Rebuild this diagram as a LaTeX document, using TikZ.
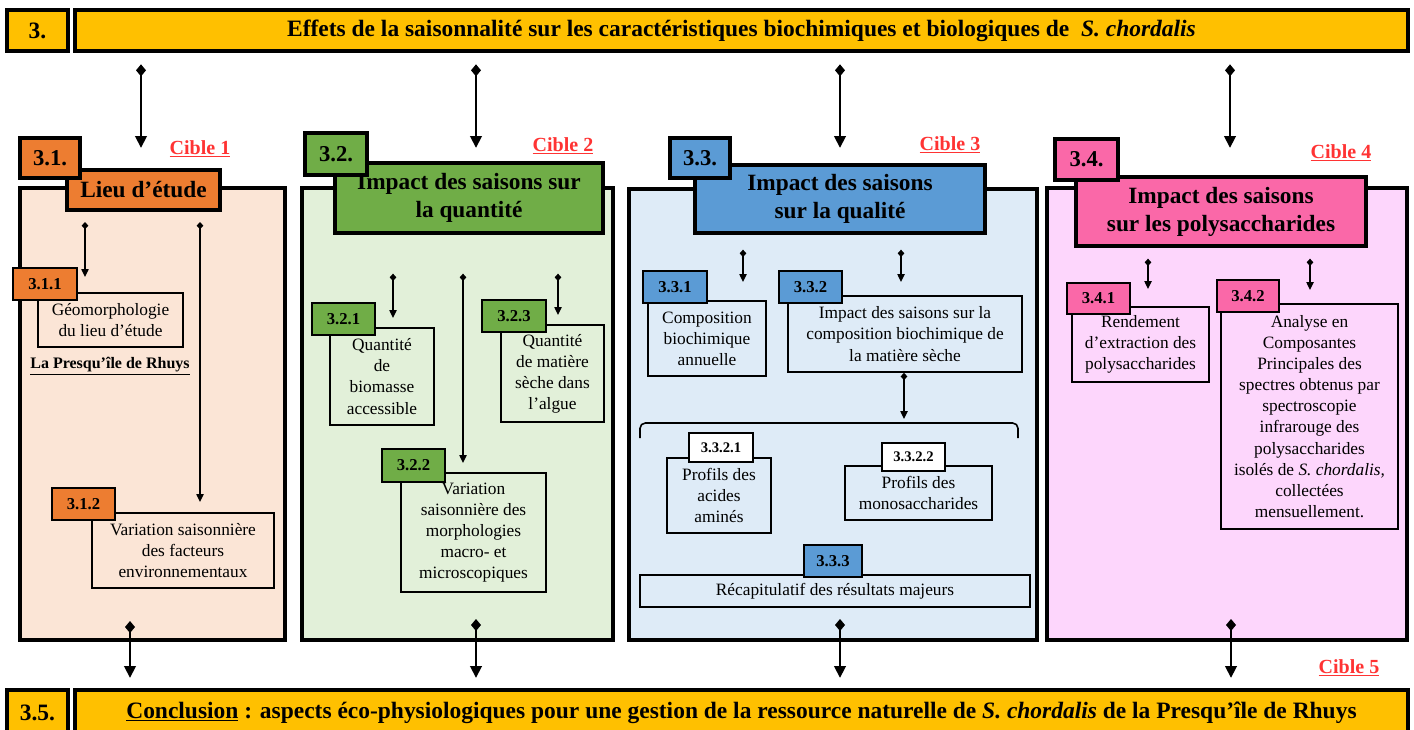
\documentclass[tikz,border=0pt]{standalone}
\usepackage{fontspec}
\setmainfont{Liberation Serif}
\usetikzlibrary{arrows.meta}
\definecolor{gold}{HTML}{FFC000}
\definecolor{orng}{HTML}{ED7D31}
\definecolor{peach}{HTML}{FBE5D6}
\definecolor{grn}{HTML}{70AD47}
\definecolor{lgrn}{HTML}{E2F0D9}
\definecolor{blu}{HTML}{5B9BD5}
\definecolor{lblu}{HTML}{DEEBF7}
\definecolor{pnk}{HTML}{FA68A8}
\definecolor{lpnk}{HTML}{FDD6FC}
\definecolor{cible}{HTML}{FF3333}
\newcommand\mybox[7]{%
  \node[#6, minimum width={(#4-#2)*0.75pt}, minimum height={(#5-#3)*0.75pt}, inner sep=0pt]
    (#1) at ({(#2+#4)/2},{(#3+#5)/2}) {#7};}
\tikzset{
  bar/.style={draw, line width=3pt, fill=gold, font=\fontsize{17.6}{20}\selectfont\bfseries},
  bigbox/.style={draw, line width=3pt},
  ttl/.style={draw, line width=3pt, align=center, font=\fontsize{17.5}{21}\selectfont\bfseries},
  sec/.style={draw, line width=2.5pt, font=\fontsize{17}{20}\selectfont\bfseries},
  num/.style={draw, line width=2pt, font=\fontsize{12.5}{15}\selectfont\bfseries},
  numw/.style={draw, line width=1.6pt, fill=white, font=\fontsize{11}{13}\selectfont\bfseries},
  sub/.style={draw, line width=1.2pt, align=center, font=\fontsize{13}{15.8}\selectfont},
  cib/.style={text=cible, font=\fontsize{15}{18}\selectfont\bfseries},
  bigarrow/.style={line width=2.2pt, {Diamond[length=9pt,width=7.5pt]}-{Triangle[length=9pt,width=8.5pt]}},
  smallarrow/.style={line width=1pt, {Diamond[length=5.5pt,width=5pt]}-{Triangle[length=6pt,width=5.5pt]}},
}
\begin{document}
\begin{tikzpicture}[x=0.75pt,y=-0.75pt]
\clip (0,0) rectangle (1414,729);
\fill[white] (0,0) rectangle (1414,729);
% top and bottom bars
\mybox{n3}{7}{10}{68}{51}{bar}{3.}
\mybox{top}{75}{10}{1408}{51}{bar}{Effets de la saisonnalité sur les caractéristiques biochimiques et biologiques de\ \ \textit{S. chordalis}}
\mybox{n35}{7}{690}{68}{735}{bar}{3.5.}
\mybox{bot}{75}{690}{1408}{735}{bar}{\underline{Conclusion} : aspects éco-physiologiques pour une gestion de la ressource naturelle de \textit{S. chordalis} de la Presqu’île de Rhuys}

% ---------- column 1
\mybox{c1}{20}{188}{285}{640}{bigbox, fill=peach}{}
\mybox{geo}{38}{293}{183}{347}{sub, fill=peach}{Géomorphologie\\du lieu d’étude}
\mybox{var1}{92}{513}{274}{588}{sub, fill=peach}{Variation saisonnière\\des facteurs\\environnementaux}
\node[font=\fontsize{12}{14}\selectfont\bfseries] (rhuys) at (110,366) {\underline{La Presqu’île de Rhuys}};
\mybox{lieu}{67}{170}{220}{210}{ttl, fill=orng}{Lieu d’étude}
\mybox{s31}{20}{138}{80}{178}{sec, fill=orng}{3.1.}
\mybox{n311}{13}{268}{77}{300}{num, fill=orng}{3.1.1}
\mybox{n312}{52}{488}{115}{520}{num, fill=orng}{3.1.2}
\node[cib] (cib1) at (200,149) {\underline{Cible 1}};

% ---------- column 2
\mybox{c2}{302}{188}{613}{640}{bigbox, fill=lgrn}{}
\mybox{q1}{330}{328}{434}{425}{sub, fill=lgrn}{Quantité\\de\\biomasse\\accessible}
\mybox{q3}{501}{325}{604}{422}{sub, fill=lgrn}{Quantité\\de matière\\sèche dans\\l’algue}
\mybox{var2}{401}{473}{546}{592}{sub, fill=lgrn}{Variation\\saisonnière des\\morphologies\\macro- et\\microscopiques}
\mybox{tt2}{335}{163}{603}{233}{ttl, fill=grn}{Impact des saisons sur\\la quantité}
\mybox{s32}{305}{133}{367}{175}{sec, fill=grn}{3.2.}
\mybox{n321}{312}{303}{375}{335}{num, fill=grn}{3.2.1}
\mybox{n323}{482}{300}{546}{332}{num, fill=grn}{3.2.3}
\mybox{n322}{382}{449}{445}{482}{num, fill=grn}{3.2.2}
\node[cib] (cib2) at (563,146) {\underline{Cible 2}};

% ---------- column 3
\mybox{c3}{629}{189}{1037}{640}{bigbox, fill=lblu}{}
\mybox{comp}{648}{301}{766}{376}{sub, fill=lblu}{Composition\\biochimique\\annuelle}
\mybox{imp}{788}{296}{1022}{372}{sub, fill=lblu}{Impact des saisons sur la\\composition biochimique de\\la matière sèche}
\mybox{aa}{667}{458}{771}{533}{sub, fill=lblu}{Profils des\\acides\\aminés}
\mybox{mono}{845}{466}{992}{520}{sub, fill=lblu}{Profils des\\monosaccharides}
\mybox{recap}{640}{575}{1030}{607}{sub, fill=lblu}{Récapitulatif des résultats majeurs}
\mybox{tt3}{695}{165}{985}{233}{ttl, fill=blu}{Impact des saisons\\sur la qualité}
\mybox{s33}{670}{138}{730}{178}{sec, fill=blu}{3.3.}
\mybox{n331}{643}{271}{707}{303}{num, fill=blu}{3.3.1}
\mybox{n332}{779}{271}{842}{303}{num, fill=blu}{3.3.2}
\mybox{n3321}{689}{433}{753}{462}{numw}{3.3.2.1}
\mybox{n3322}{882}{443}{945}{471}{numw}{3.3.2.2}
\mybox{n333}{804}{545}{862}{577}{num, fill=blu}{3.3.3}
\node[cib] (cib3) at (950,145) {\underline{Cible 3}};
\draw[line width=1.2pt, rounded corners=4pt] (640,438) -- (640,423) -- (1018,423) -- (1018,438);

% ---------- column 4
\mybox{c4}{1047}{188}{1407}{640}{bigbox, fill=lpnk}{}
\mybox{rend}{1072}{307}{1209}{382}{sub, fill=lpnk}{Rendement\\d’extraction des\\polysaccharides}
\mybox{anal}{1221}{304}{1398}{529}{sub, fill=lpnk}{Analyse en\\Composantes\\Principales des\\spectres obtenus par\\spectroscopie\\infrarouge des\\polysaccharides\\isolés de \textit{S. chordalis,}\\collectées\\mensuellement.}
\mybox{tt4}{1076}{177}{1366}{246}{ttl, fill=pnk}{Impact des saisons\\sur les polysaccharides}
\mybox{s34}{1055}{139}{1118}{180}{sec, fill=pnk}{3.4.}
\mybox{n341}{1067}{283}{1130}{314}{num, fill=pnk}{3.4.1}
\mybox{n342}{1217}{280}{1279}{312}{num, fill=pnk}{3.4.2}
\node[cib] (cib4) at (1341,153) {\underline{Cible 4}};
\node[cib] (cib5) at (1349,668) {\underline{Cible 5}};

% ---------- arrows from top bar
\coordinate (ta1) at (141,148);
\coordinate (ta2) at (476,148);
\coordinate (ta3) at (840,148);
\coordinate (ta4) at (1230,148);
\foreach \k in {1,2,3,4} \draw[bigarrow, shorten <=8.5pt] (top.south -| ta\k) -- (ta\k);
% arrows to bottom bar
\coordinate (ba1) at (130,621);
\coordinate (ba2) at (476,619);
\coordinate (ba3) at (840,619);
\coordinate (ba4) at (1231,619);
\foreach \k in {1,2,3,4} \draw[bigarrow, shorten >=7.5pt] (ba\k) -- (ba\k |- bot.north);

% ---------- small arrows
\coordinate (a11) at (85,277);
\coordinate (a12) at (200,502);
\draw[smallarrow, shorten <=7.5pt] (lieu.south -| a11) -- (a11);
\draw[smallarrow, shorten <=7.5pt] (lieu.south -| a12) -- (a12);
\coordinate (a21) at (393,318);
\coordinate (a22) at (463,463);
\coordinate (a23) at (558,315);
\draw[smallarrow, shorten <=29pt] (tt2.south -| a21) -- (a21);
\draw[smallarrow, shorten <=29pt] (tt2.south -| a22) -- (a22);
\draw[smallarrow, shorten <=29pt] (tt2.south -| a23) -- (a23);
\coordinate (a31) at (743,282);
\coordinate (a32) at (901,282);
\coordinate (a33) at (904,419);
\draw[smallarrow, shorten <=11pt] (tt3.south -| a31) -- (a31);
\draw[smallarrow, shorten <=11pt] (tt3.south -| a32) -- (a32);
\draw[smallarrow] (imp.south -| a33) -- (a33);
\coordinate (a41) at (1148,289);
\coordinate (a42) at (1310,290);
\draw[smallarrow, shorten <=8pt] (tt4.south -| a41) -- (a41);
\draw[smallarrow, shorten <=8pt] (tt4.south -| a42) -- (a42);
\end{tikzpicture}
\end{document}
